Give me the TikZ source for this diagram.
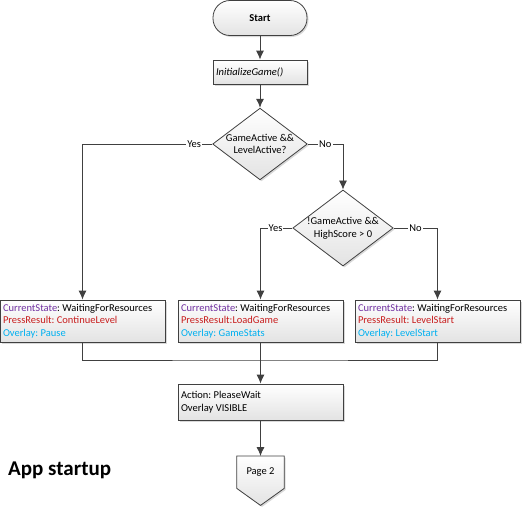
\documentclass[tikz,border=0pt]{standalone}
\usepackage{fontspec}
\setmainfont{Carlito}
\frenchspacing
\usetikzlibrary{shapes.geometric,shadows,arrows.meta,backgrounds}
\definecolor{linegray}{RGB}{64,64,64}
\definecolor{statepurple}{RGB}{112,48,160}
\definecolor{pressred}{RGB}{200,30,30}
\definecolor{overlayblue}{RGB}{0,176,240}
\begin{document}
\begin{tikzpicture}[x=1pt,y=1pt,font=\fontsize{10.5}{12.7}\selectfont,
  flow/.style={draw=linegray,line width=0.8pt,top color=white,bottom color=gray!22,
    drop shadow={opacity=0.3,shadow xshift=1.5pt,shadow yshift=-1.5pt}},
  proc/.style={flow,rectangle,align=flush left,inner sep=3pt,text width=159pt},
  cond/.style={flow,diamond,aspect=1.32,inner sep=0pt,minimum width=94pt,minimum height=71pt,align=center},
  line/.style={draw=linegray,line width=0.8pt},
  arr/.style={line,-{Latex[length=9pt,width=8pt]}},
  ans/.style={fill=white,inner sep=1pt}]
\useasboundingbox (0,0) rectangle (531,-507);
\node[flow,rectangle,rounded corners=17pt,minimum width=94pt,minimum height=35pt,font=\fontsize{10.5}{12.7}\selectfont\bfseries] (start) at (260,-18) {Start};
\node[proc,text width=88pt,minimum height=24pt] (init) at (260,-72) {\textit{InitializeGame()}};
\node[cond] (d1) at (260,-144) {GameActive \&\&\\LevelActive?};
\node[cond] (d2) at (343,-228) {!GameActive \&\&\\HighScore > 0};
\node[proc,minimum height=42pt] (b1) at (82.5,-321) {\textcolor{statepurple}{CurrentState}: WaitingForResources\\\textcolor{pressred}{PressResult: ContinueLevel}\\\textcolor{overlayblue}{Overlay: Pause}};
\node[proc,minimum height=42pt] (b2) at (260.5,-321) {\textcolor{statepurple}{CurrentState}: WaitingForResources\\\textcolor{pressred}{PressResult:LoadGame}\\\textcolor{overlayblue}{Overlay: GameStats}};
\node[proc,minimum height=42pt] (b3) at (437.5,-321) {\textcolor{statepurple}{CurrentState}: WaitingForResources\\\textcolor{pressred}{PressResult: LevelStart}\\\textcolor{overlayblue}{Overlay: LevelStart}};
\node[proc,minimum height=36pt] (act) at (260.5,-402) {Action: PleaseWait\\Overlay VISIBLE};
% off-page connector
\node[minimum width=47pt,minimum height=32pt,inner sep=0pt,anchor=north] (page2) at (260.5,-456) {Page 2};
\begin{scope}[on background layer]
\path[flow] (page2.north west) -- (page2.north east) -- (page2.south east)
  -- ([yshift=-17pt]page2.south) -- (page2.south west) -- cycle;
\end{scope}
\coordinate (mrg) at (260.5,-360);
\node[font=\fontsize{21}{25}\selectfont\bfseries,anchor=base west,inner sep=0pt] (title) at (8,-475) {App startup};
\draw[arr] (start) -- (init);
\draw[arr] (init) -- (d1);
\draw[arr] (d1.west) -- node[ans,pos=0.14] {Yes} (d1.west -| b1) -- (b1);
\draw[arr] (d1.east) -- node[ans] {No} (d1.east -| d2) -- (d2);
\draw[arr] (d2.west) -- node[ans,pos=0.53] {Yes} (d2.west -| b2) -- (b2);
\draw[arr] (d2.east) -- node[ans] {No} (d2.east -| b3) -- (b3);
\draw[line] (b1) |- (mrg) -| (b3);
\draw[arr] (b2) -- (act);
\draw[arr] (act) -- (page2);
\end{tikzpicture}
\end{document}
